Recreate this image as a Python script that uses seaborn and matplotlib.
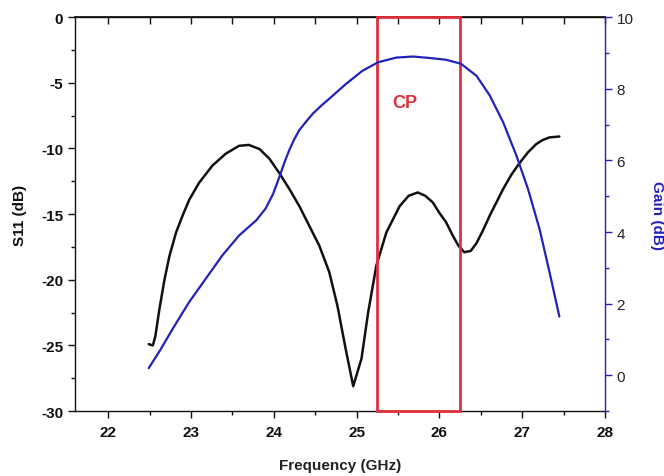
import matplotlib
matplotlib.use("Agg")
import matplotlib.pyplot as plt
import seaborn as sns
import pandas as pd
from matplotlib.patches import Rectangle
from matplotlib.ticker import MultipleLocator

sns.set_theme(style="white")
plt.rcParams['font.family'] = ['Liberation Sans', 'DejaVu Sans']
plt.rcParams['axes.unicode_minus'] = False

# S11 (dB) curve
s11_freq = [22.49, 22.54, 22.57, 22.62, 22.68, 22.74, 22.82, 22.90, 22.98, 23.10,
            23.26, 23.42, 23.58, 23.70, 23.83, 23.95, 24.07, 24.19, 24.31, 24.43,
            24.55, 24.67, 24.77, 24.87, 24.96, 25.06, 25.14, 25.24, 25.36, 25.52,
            25.63, 25.74, 25.83, 25.92, 26.00, 26.08, 26.16, 26.23, 26.30, 26.38,
            26.45, 26.53, 26.61, 26.69, 26.77, 26.87, 26.97, 27.07, 27.17, 27.25,
            27.33, 27.45]
s11_val = [-24.9, -25.0, -24.3, -22.2, -20.0, -18.2, -16.4, -15.1, -13.9, -12.6,
           -11.3, -10.4, -9.8, -9.73, -10.05, -10.8, -11.9, -13.1, -14.4, -15.9,
           -17.4, -19.4, -22.0, -25.3, -28.1, -26.0, -22.5, -18.9, -16.4, -14.4,
           -13.6, -13.35, -13.6, -14.1, -14.9, -15.6, -16.6, -17.4, -17.9, -17.8,
           -17.2, -16.2, -15.1, -14.1, -13.1, -12.0, -11.1, -10.3, -9.67, -9.35,
           -9.16, -9.09]

# Gain (dB) curve
gain_freq = [22.49, 22.62, 22.78, 22.98, 23.18, 23.38, 23.58, 23.79, 23.90, 23.99,
             24.07, 24.13, 24.19, 24.25, 24.31, 24.39, 24.47, 24.57, 24.67, 24.87,
             25.07, 25.26, 25.48, 25.68, 25.88, 26.08, 26.26, 26.45, 26.61, 26.77,
             26.93, 27.07, 27.21, 27.33, 27.45]
gain_val = [0.2, 0.67, 1.3, 2.05, 2.7, 3.35, 3.9, 4.33, 4.65, 5.05,
            5.55, 5.95, 6.3, 6.6, 6.85, 7.08, 7.3, 7.52, 7.72, 8.13,
            8.5, 8.74, 8.87, 8.9, 8.86, 8.81, 8.7, 8.36, 7.81, 7.07,
            6.14, 5.21, 4.09, 2.89, 1.64]

cp_band = [25.25, 26.25]
cp_label = "CP"

x_ticks = [22, 23, 24, 25, 26, 27, 28]
s11_ticks = [0, -5, -10, -15, -20, -25, -30]
gain_ticks = [0, 2, 4, 6, 8, 10]

df_s11 = pd.DataFrame({"f": s11_freq, "v": s11_val})
df_gain = pd.DataFrame({"f": gain_freq, "v": gain_val})

fig = plt.figure(figsize=(6.64, 4.77), dpi=100)
ax = fig.add_axes([0.113, 0.136, 0.798, 0.826])
ax2 = ax.twinx()

blue = "#2222bb"
red = "#e0303c"

sns.lineplot(data=df_s11, x="f", y="v", ax=ax, color="#111111", lw=1.8, sort=False)
sns.lineplot(data=df_gain, x="f", y="v", ax=ax2, color=blue, lw=1.6, sort=False)

ax.set_xlim(21.6, 28)
ax.set_ylim(-30, 0)
ax2.set_ylim(-1, 10)

ax.add_patch(Rectangle((cp_band[0], -30), cp_band[1] - cp_band[0], 30,
                       fill=False, edgecolor=red, lw=2.0, zorder=5, clip_on=False))
ax.text(25.58, -6.5, cp_label, color=red, fontsize=13, fontweight="bold",
        ha="center", va="center")

ax.set_xticks(x_ticks)
ax.set_yticks(s11_ticks)
ax2.set_yticks(gain_ticks)
ax.xaxis.set_minor_locator(MultipleLocator(0.5))
ax.yaxis.set_minor_locator(MultipleLocator(2.5))
ax2.yaxis.set_minor_locator(MultipleLocator(1))

ax.tick_params(axis="x", which="both", direction="out", bottom=True, top=False,
               labelsize=11, colors="#111111", pad=5)
ax.tick_params(axis="x", which="major", length=5, width=1)
ax.tick_params(axis="x", which="minor", length=3, width=1)
ax.tick_params(axis="y", which="both", direction="out", left=True, labelsize=11, colors="#111111")
ax.tick_params(axis="y", which="major", length=5, width=1)
ax.tick_params(axis="y", which="minor", length=3, width=1)
ax2.tick_params(axis="y", which="both", direction="out", right=True, labelsize=11,
                color=blue, labelcolor="#222222")
ax2.tick_params(axis="y", which="major", length=5, width=1)
ax2.tick_params(axis="y", which="minor", length=3, width=1)

# top axis: inward ticks, no labels
top = ax.secondary_xaxis("top")
top.set_xticks(x_ticks)
top.xaxis.set_minor_locator(MultipleLocator(0.5))
top.tick_params(axis="x", which="both", direction="in", labeltop=False, colors="#111111", width=1)
top.tick_params(axis="x", which="major", length=5)
top.tick_params(axis="x", which="minor", length=5)
top.spines["top"].set_color("#111111")

for lab in ax.get_xticklabels() + ax.get_yticklabels():
    lab.set_fontweight("bold")

ax.set_xlabel("Frequency (GHz)", fontsize=11, fontweight="bold", color="#222222", labelpad=14)
ax.set_ylabel("S11 (dB)", fontsize=11, fontweight="bold", color="#111111", labelpad=10)
ax2.set_ylabel("Gain (dB)", fontsize=11, fontweight="bold", color=blue, rotation=270, labelpad=22)

for sp in ["left", "bottom", "top"]:
    ax.spines[sp].set_color("#111111")
    ax.spines[sp].set_linewidth(1.0)
for sp in ["left", "bottom", "top"]:
    ax2.spines[sp].set_visible(False)
ax.spines["right"].set_visible(False)
ax2.spines["right"].set_color(blue)
ax2.spines["right"].set_linewidth(1.0)

fig.savefig("out.png", dpi=100, facecolor="white")
